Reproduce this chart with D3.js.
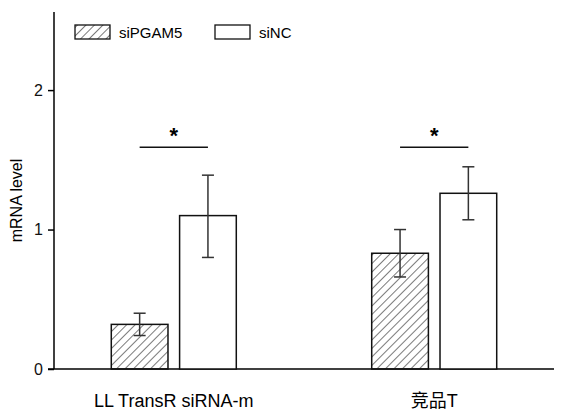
<!DOCTYPE html>
<html><head><meta charset="utf-8">
<script src="https://cdn.jsdelivr.net/npm/d3@7"></script>
<style>body{margin:0;background:#fff}text{font-family:Arial,"Liberation Sans","Noto Sans CJK SC",sans-serif}</style>
</head><body><svg id="c" width="564" height="416"></svg>
<script>
const categories = ["LL TransR siRNA-m", "竞品T"];
const series = ["siPGAM5", "siNC"];
const means = [[0.32, 1.10], [0.83, 1.26]];
const errLow = [[0.24, 0.80], [0.66, 1.07]];
const errHigh = [[0.40, 1.39], [1.00, 1.45]];
const sigLevel = [1.59, 1.59];
const yTicks = [0, 1, 2];

const svg = d3.select("#c");
const mLeft = 54, mRight = 554, mTop = 12, mBottom = 369;
const y = d3.scaleLinear().domain([0, 2.56]).range([mBottom, mTop]);
const x0 = d3.scaleBand().domain(categories).range([mLeft, mRight]).paddingInner(0.52).paddingOuter(0.22);
const x1 = d3.scaleBand().domain(series).range([0, x0.bandwidth()]).paddingInner(0.17);

const defs = svg.append("defs");
defs.append("pattern").attr("id", "hatch").attr("patternUnits", "userSpaceOnUse")
  .attr("width", 6).attr("height", 6).attr("patternTransform", "rotate(45)")
  .append("line").attr("x1", 0).attr("y1", 0).attr("x2", 0).attr("y2", 6)
  .attr("stroke", "#333").attr("stroke-width", 1.3);
const fillFor = s => s === "siPGAM5" ? "url(#hatch)" : "#fff";

// axes
svg.append("line").attr("x1", mLeft).attr("x2", mLeft).attr("y1", mTop).attr("y2", mBottom).attr("stroke", "#000").attr("stroke-width", 1.5);
svg.append("line").attr("x1", mLeft - 6).attr("x2", mRight).attr("y1", mBottom).attr("y2", mBottom).attr("stroke", "#000").attr("stroke-width", 1.5);
const ya = svg.append("g").attr("transform", `translate(${mLeft},0)`)
  .call(d3.axisLeft(y).tickValues(yTicks).tickSize(6).tickFormat(d3.format("d")));
ya.select(".domain").remove();
ya.selectAll("text").attr("font-size", 16).attr("fill", "#111").attr("dx", -2);
ya.selectAll("line").attr("stroke-width", 1.5);

svg.append("text").attr("transform", `translate(22,${(mTop + mBottom) / 2 + 10}) rotate(-90)`)
  .attr("text-anchor", "middle").attr("font-size", 16).text("mRNA level");

categories.forEach((c, ci) => {
  const g = svg.append("g").attr("transform", `translate(${x0(c)},0)`);
  series.forEach((s, si) => {
    const bx = x1(s), bw = x1.bandwidth(), cx = bx + bw / 2;
    g.append("rect").attr("x", bx).attr("width", bw)
      .attr("y", y(means[ci][si])).attr("height", mBottom - y(means[ci][si]))
      .attr("fill", fillFor(s)).attr("stroke", "#111").attr("stroke-width", 1.5);
    g.append("line").attr("x1", cx).attr("x2", cx).attr("y1", y(errLow[ci][si])).attr("y2", y(errHigh[ci][si])).attr("stroke", "#333").attr("stroke-width", 1.5);
    [errLow[ci][si], errHigh[ci][si]].forEach(v =>
      g.append("line").attr("x1", cx - 6).attr("x2", cx + 6).attr("y1", y(v)).attr("y2", y(v)).attr("stroke", "#333").attr("stroke-width", 1.5));
  });
  const ax = x1("siPGAM5") + x1.bandwidth() / 2, bx2 = x1("siNC") + x1.bandwidth() / 2;
  g.append("line").attr("x1", ax).attr("x2", bx2).attr("y1", y(sigLevel[ci])).attr("y2", y(sigLevel[ci])).attr("stroke", "#111").attr("stroke-width", 1.5);
  g.append("text").attr("x", (ax + bx2) / 2).attr("y", y(sigLevel[ci]) - 4).attr("text-anchor", "middle").attr("font-size", 22).attr("font-weight", "bold").text("*");
  svg.append("text").attr("x", x0(c) + x0.bandwidth() / 2).attr("y", 407).attr("text-anchor", "middle")
    .attr("font-size", 18).attr("font-family", "'Open Sans','Noto Sans CJK SC',sans-serif").text(c);
});

// legend
const lx = [75, 215];
series.forEach((s, i) => {
  svg.append("rect").attr("x", lx[i]).attr("y", 25).attr("width", 35).attr("height", 14)
    .attr("fill", fillFor(s)).attr("stroke", "#111").attr("stroke-width", 1.3);
  svg.append("text").attr("x", lx[i] + 44).attr("y", 38).attr("font-size", 15).text(s);
});
</script></body></html>
